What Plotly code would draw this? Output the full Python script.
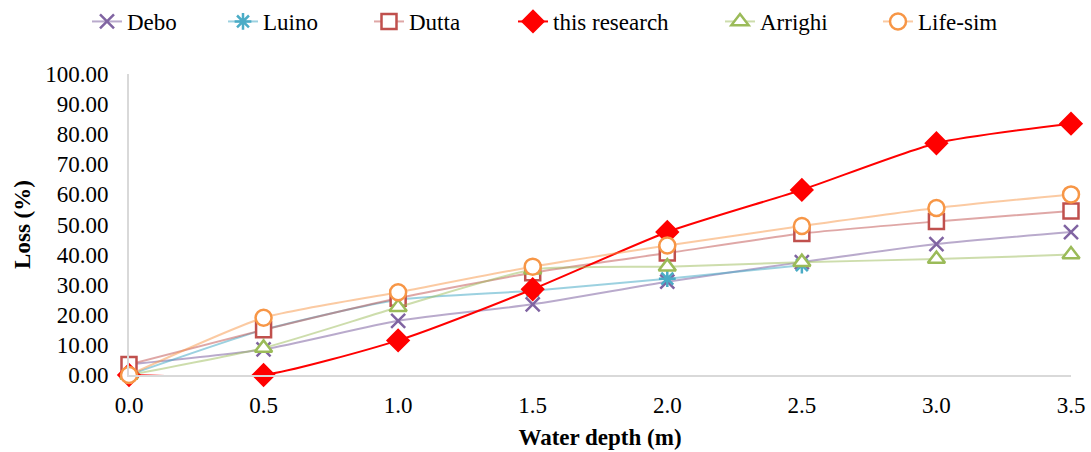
import plotly.graph_objects as go

depth = [0.0, 0.5, 1.0, 1.5, 2.0, 2.5, 3.0, 3.5]
debo = [3.5, 8.5, 18.0, 23.5, 31.0, 37.5, 43.5, 47.5]
luino = [0.0, 15.0, 25.0, 28.0, 32.0, 36.5]
dutta = [3.5, 15.0, 25.5, 34.0, 40.5, 47.0, 51.0, 54.5]
this_research = [0.0, 0.0, 11.5, 28.5, 47.5, 61.5, 77.0, 83.5]
arrighi = [0.0, 9.0, 22.5, 35.0, 36.0, 37.5, 38.5, 40.0]
life_sim = [0.0, 19.0, 27.5, 36.0, 43.0, 49.5, 55.5, 60.0]

series = [
    ("Debo", debo, "#8064A2", "rgba(128,100,162,0.55)", "x-thin-open", 14, None),
    ("Luino", luino, "#4BACC6", "rgba(75,172,198,0.55)", "asterisk-open", 14, None),
    ("Dutta", dutta, "#C0504D", "rgba(192,80,77,0.5)", "square", 15, "white"),
    ("this research", this_research, "#FF0000", "#FF0000", "diamond", 16, "#FF0000"),
    ("Arrighi", arrighi, "#9BBB59", "rgba(155,187,89,0.5)", "triangle-up", 15, "white"),
    ("Life-sim", life_sim, "#F79646", "rgba(247,150,70,0.5)", "circle", 16, "white"),
]
# legend marker centres (px)
legend_centres = [109, 245, 391, 535, 742, 900]

font = "Liberation Serif, Times New Roman, serif"
fs = 23

fig = go.Figure()
legend_layout = {}
for i, (name, vals, mc, lc, sym, size, fill) in enumerate(series):
    marker = dict(symbol=sym, size=size, line=dict(color=mc, width=2.5))
    marker["color"] = fill if fill else mc
    key = "legend" if i == 0 else f"legend{i+1}"
    fig.add_trace(go.Scatter(
        x=depth[:len(vals)], y=vals, name=name, mode="lines+markers",
        line=dict(color=lc, width=2, shape="spline", smoothing=0.6),
        marker=marker, cliponaxis=False, legend=key,
    ))
    legend_layout[key] = dict(
        orientation="h", x=(legend_centres[i] - 22) / 1091, xanchor="left",
        xref="container", y=1.0, yanchor="top", yref="container",
        font=dict(size=fs), bgcolor="rgba(0,0,0,0)", borderwidth=0,
    )

fig.update_layout(
    width=1091, height=452,
    margin=dict(l=129, r=20, t=74, b=77, autoexpand=False),
    paper_bgcolor="white", plot_bgcolor="white",
    font=dict(family=font, size=fs, color="black"),
    showlegend=True,
    **legend_layout,
)
fig.update_xaxes(
    range=[0, 3.5], tickvals=depth, ticktext=[f"{d:.1f}" for d in depth],
    showgrid=False, showline=True, linecolor="#d9d9d9", linewidth=2,
    zeroline=False, ticks="", tickfont=dict(size=fs), ticklabelstandoff=8,
    title=dict(text="<b>Water depth (m)</b>", font=dict(size=fs), standoff=12),
)
fig.update_yaxes(
    range=[0, 100], dtick=10, tickformat=".2f",
    showgrid=False, showline=True, linecolor="#d9d9d9", linewidth=2,
    zeroline=False, ticks="", tickfont=dict(size=fs), ticklabelstandoff=14,
    title=dict(text="<b>Loss (%)</b>", font=dict(size=fs), standoff=8),
)
fig.write_html("out.html")
